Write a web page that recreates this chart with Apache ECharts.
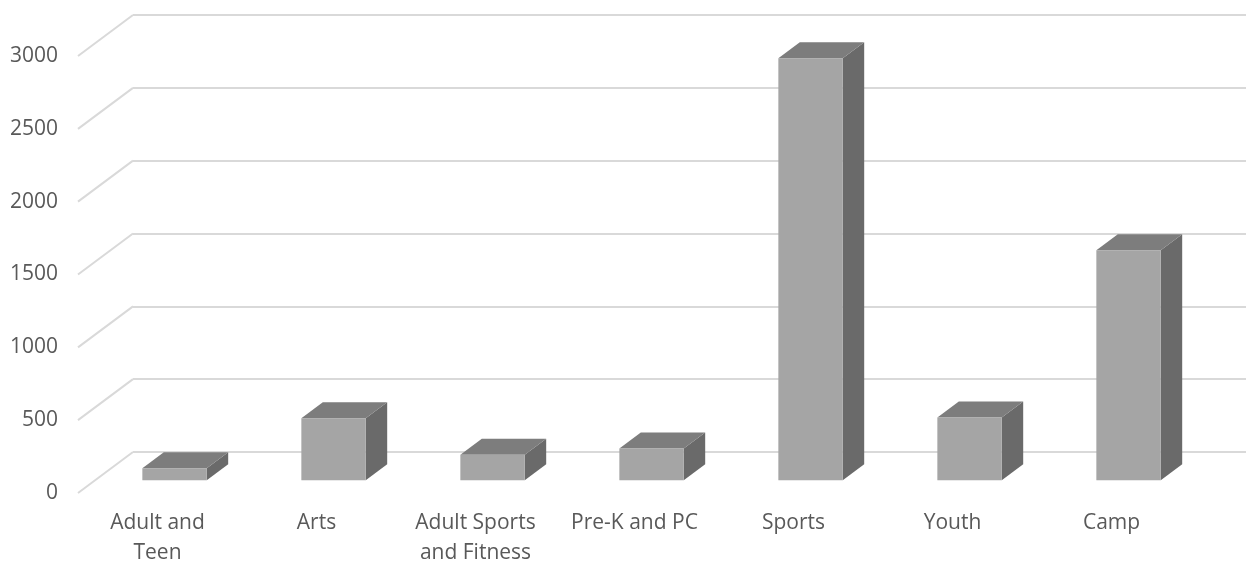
<!DOCTYPE html>
<html>
<head>
<meta charset="utf-8">
<script src="https://cdn.jsdelivr.net/npm/echarts@6/dist/echarts.min.js"></script>
<style>
  html, body { margin: 0; padding: 0; background: #fff; }
  #main { width: 1249px; height: 561px; }
</style>
</head>
<body>
<div id="main"></div>
<script>
var categories = ['Adult and\nTeen', 'Arts', 'Adult Sports\nand Fitness', 'Pre-K and PC', 'Sports', 'Youth', 'Camp'];
var values = [82, 426, 176, 218, 2898, 431, 1580];
var yTicks = [0, 500, 1000, 1500, 2000, 2500, 3000];

window.onload = function () {
    var chart = echarts.init(document.getElementById('main'));

    // depth of the fake 3d box (front floor edge -> back wall)
    var DX = 55, DY = -41;
    var front = { left: 78, right: 58, top: 56, bottom: 68 };
    var back = {
        left: front.left + DX,
        right: front.right - DX,
        top: front.top + DY,
        bottom: front.bottom - DY
    };
    var barFront = 0.31, barBack = 0.70, barWidth = 0.405;

    var labelFont = { color: '#595959', fontSize: 21, fontFamily: 'Open Sans' };

    function renderBar(params, api) {
        var idx = api.value(0);
        var base = api.coord([idx, 0]);
        var top = api.coord([idx, api.value(1)]);
        var w = api.size([1, 0])[0] * barWidth;
        var x0 = base[0] - w / 2 + barFront * DX;
        var yb = base[1] + barFront * DY;
        var yt = top[1] + barFront * DY;
        var ddx = (barBack - barFront) * DX;
        var ddy = (barBack - barFront) * DY;
        return {
            type: 'group',
            children: [{
                type: 'polygon',
                shape: { points: [[x0 + w, yt], [x0 + w, yb], [x0 + w + ddx, yb + ddy], [x0 + w + ddx, yt + ddy]] },
                style: { fill: '#6a6a6a' }
            }, {
                type: 'polygon',
                shape: { points: [[x0, yt], [x0 + w, yt], [x0 + w + ddx, yt + ddy], [x0 + ddx, yt + ddy]] },
                style: { fill: '#7d7d7d' }
            }, {
                type: 'rect',
                shape: { x: x0, y: yt, width: w, height: yb - yt },
                style: { fill: '#a5a5a5' }
            }]
        };
    }

    function renderDiagonal(params, api) {
        var p = api.coord([0, api.value(0)]);
        var x = params.coordSys.x;
        return {
            type: 'line',
            shape: { x1: x, y1: p[1], x2: x + DX, y2: p[1] + DY },
            style: { stroke: '#d9d9d9', lineWidth: 2 }
        };
    }

    var option = {
        animation: false,
        grid: [
            { left: front.left, right: front.right, top: front.top, bottom: front.bottom, outerBoundsMode: 'none', containLabel: false },
            { left: back.left, right: back.right, top: back.top, bottom: back.bottom, outerBoundsMode: 'none', containLabel: false }
        ],
        xAxis: [{
            type: 'category',
            data: categories,
            gridIndex: 0,
            axisLine: { show: false },
            axisTick: { show: false },
            axisLabel: Object.assign({ margin: 15, lineHeight: 30, interval: 0 }, labelFont)
        }, {
            type: 'category',
            data: categories,
            gridIndex: 1,
            show: false
        }],
        yAxis: [{
            type: 'value',
            gridIndex: 0,
            min: 0, max: 3000, interval: 500,
            axisLine: { show: false },
            axisTick: { show: false },
            splitLine: { show: false },
            axisLabel: Object.assign({ margin: 20, formatter: function (v) { return String(v); } }, labelFont)
        }, {
            type: 'value',
            gridIndex: 1,
            min: 0, max: 3000, interval: 500,
            axisLine: { show: false },
            axisTick: { show: false },
            axisLabel: { show: false },
            splitLine: { lineStyle: { color: '#d9d9d9', width: 2 } }
        }],
        series: [{
            type: 'custom',
            xAxisIndex: 0, yAxisIndex: 0,
            silent: true,
            z: 1,
            data: yTicks.map(function (v) { return [v]; }),
            encode: { y: 0 },
            renderItem: renderDiagonal
        }, {
            type: 'custom',
            xAxisIndex: 0, yAxisIndex: 0,
            z: 3,
            data: values.map(function (v, i) { return [i, v]; }),
            encode: { x: 0, y: 1 },
            renderItem: renderBar
        }]
    };
    chart.setOption(option);
};
</script>
</body>
</html>
